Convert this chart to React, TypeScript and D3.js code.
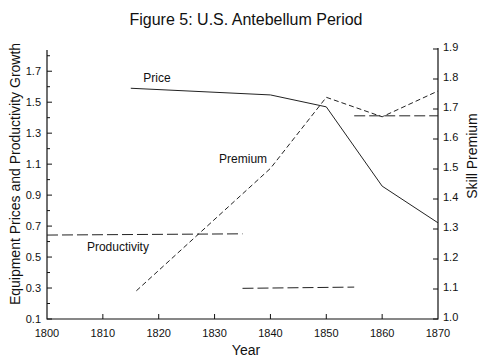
import * as d3 from "d3";

// Equipment price (left axis)
const priceYears = [1815, 1840, 1850, 1860, 1870];
const priceValues = [1.59, 1.547, 1.47, 0.958, 0.721];

// Skill premium (right axis)
const premiumYears = [1816, 1840, 1850, 1860, 1870];
const premiumValues = [1.094, 1.502, 1.739, 1.674, 1.76];

// Productivity growth (left axis), one flat segment per period
const prodStart = [1800, 1835, 1855];
const prodEnd = [1835, 1855, 1870];
const prodStartValues = [0.642, 0.298, 1.412];
const prodEndValues = [0.65, 0.306, 1.412];

const yearTicks = [1800, 1810, 1820, 1830, 1840, 1850, 1860, 1870];
const leftTicks = [0.1, 0.3, 0.5, 0.7, 0.9, 1.1, 1.3, 1.5, 1.7];
const leftMinor = [0.2, 0.4, 0.6, 0.8, 1.0, 1.2, 1.4, 1.6, 1.8];
const rightTicks = [1.0, 1.1, 1.2, 1.3, 1.4, 1.5, 1.6, 1.7, 1.8, 1.9];

const width = 492,
  height = 362;
const left = 47,
  right = 438,
  top = 48,
  bottom = 319;

const font = "'Liberation Sans', Arial, sans-serif";

export default function App() {
  const x = d3.scaleLinear().domain([1800, 1870]).range([left, right]);
  const yL = d3.scaleLinear().domain([0.1, 1.85]).range([bottom, top]);
  const yR = d3.scaleLinear().domain([1.0, 1.9]).range([bottom, top + 1]);

  const line = d3.line<[number, number]>();
  const pricePath = line(priceYears.map((d, i) => [x(d), yL(priceValues[i])]));
  const premiumPath = line(premiumYears.map((d, i) => [x(d), yR(premiumValues[i])]));

  const tick = 5;
  const ink = "#222";

  return (
    <svg
      width={width}
      height={height}
      style={{ position: "absolute", left: 0, top: 0, background: "#fff" }}
      fontFamily={font}
    >
      {/* title */}
      <text x={246} y={25} textAnchor="middle" fontSize={16} fill="#111">
        Figure 5: U.S. Antebellum Period
      </text>

      {/* axes frame (left, bottom, right) */}
      <path
        d={`M${left},${top + 2}V${bottom}H${right}V${top}`}
        fill="none"
        stroke="#111"
        strokeWidth={1.2}
      />

      {/* x ticks */}
      {yearTicks.map((t) => (
        <g key={t}>
          {t > 1800 && t < 1870 && (
            <line x1={x(t)} x2={x(t)} y1={bottom} y2={bottom - tick} stroke="#111" />
          )}
          <text x={x(t)} y={337} textAnchor="middle" fontSize={11} fill="#111">
            {t}
          </text>
        </g>
      ))}

      {/* left ticks */}
      {leftTicks.map((t) => (
        <g key={t}>
          <line x1={left} x2={left + tick} y1={yL(t)} y2={yL(t)} stroke="#111" />
          <text x={41} y={yL(t)} dy="0.35em" textAnchor="end" fontSize={11} fill="#111">
            {t.toFixed(1)}
          </text>
        </g>
      ))}
      {leftMinor.map((t) => (
        <line key={t} x1={left} x2={left + 3} y1={yL(t)} y2={yL(t)} stroke="#111" />
      ))}

      {/* right ticks */}
      {rightTicks.map((t) => (
        <g key={t}>
          <line x1={right} x2={right - tick} y1={yR(t)} y2={yR(t)} stroke="#111" />
          <text x={443} y={yR(t) - 2} dy="0.35em" textAnchor="start" fontSize={11} fill="#111">
            {t.toFixed(1)}
          </text>
        </g>
      ))}

      {/* axis titles */}
      <text x={246} y={355} textAnchor="middle" fontSize={14} fill="#111">
        Year
      </text>
      <text
        transform={`translate(20,174) rotate(-90)`}
        textAnchor="middle"
        fontSize={14}
        fill="#111"
      >
        Equipment Prices and Productivity Growth
      </text>
      <text
        transform={`translate(477,156) rotate(-90)`}
        textAnchor="middle"
        fontSize={14}
        fill="#111"
      >
        Skill Premium
      </text>

      {/* series */}
      <path d={pricePath ?? ""} fill="none" stroke={ink} strokeWidth={1} />
      <path
        d={premiumPath ?? ""}
        fill="none"
        stroke={ink}
        strokeWidth={1}
        strokeDasharray="5,3"
      />
      {prodStart.map((s, i) => (
        <line
          key={s}
          x1={x(s)}
          x2={x(prodEnd[i])}
          y1={yL(prodStartValues[i])}
          y2={yL(prodEndValues[i])}
          stroke={ink}
          strokeWidth={1}
          strokeDasharray="11,4"
        />
      ))}

      {/* series labels */}
      <text x={x(1819.7)} y={yL(1.66)} dy="0.35em" textAnchor="middle" fontSize={12} fill="#111">
        Price
      </text>
      <text x={x(1835.1)} y={yL(1.132)} dy="0.35em" textAnchor="middle" fontSize={12} fill="#111">
        Premium
      </text>
      <text x={x(1812.7)} y={yL(0.565)} dy="0.35em" textAnchor="middle" fontSize={12} fill="#111">
        Productivity
      </text>
    </svg>
  );
}
